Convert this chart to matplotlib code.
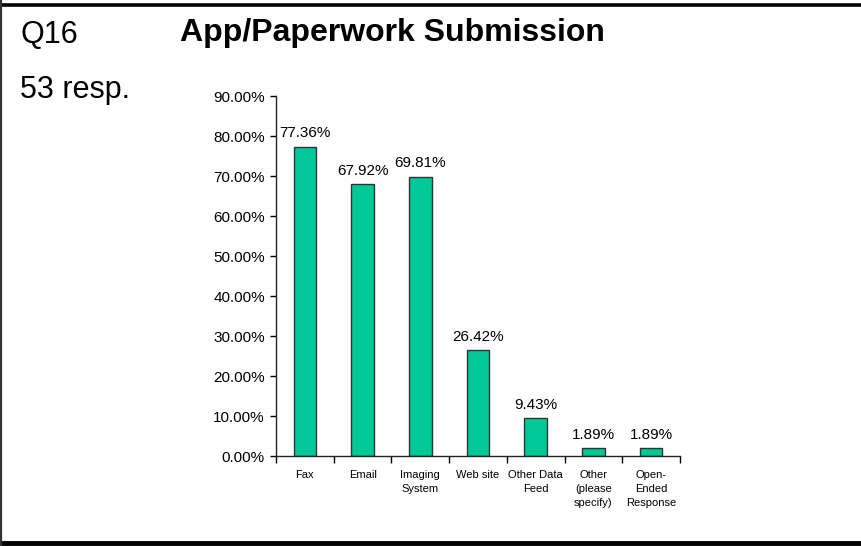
#!/usr/bin/env python3
"""Q16 survey results: how applications/paperwork are submitted."""

import matplotlib.pyplot as plt
from matplotlib.lines import Line2D
from matplotlib.ticker import FuncFormatter, MultipleLocator

question = "Q16"
title = "App/Paperwork Submission"
responses = "53 resp."

categories = [
    "Fax",
    "Email",
    "Imaging\nSystem",
    "Web site",
    "Other Data\nFeed",
    "Other\n(please\nspecify)",
    "Open-\nEnded\nResponse",
]
percent = [77.36, 67.92, 69.81, 26.42, 9.43, 1.89, 1.89]

bar_color = "#00C896"
font = ["Liberation Sans", "DejaVu Sans"]

W, H = 861, 546


def main():
    plt.rcParams["font.family"] = font

    fig = plt.figure(figsize=(W / 100, H / 100), dpi=100, facecolor="white")

    # Slide frame: heavy rules top and bottom, thin rule on the left
    fig.add_artist(Line2D([0, 1], [1 - 4.5 / H] * 2, transform=fig.transFigure,
                          color="black", linewidth=2.6))
    fig.add_artist(Line2D([0, 1], [3 / H] * 2, transform=fig.transFigure,
                          color="black", linewidth=3.5))
    fig.add_artist(Line2D([1 / W] * 2, [0, 1], transform=fig.transFigure,
                          color="#333333", linewidth=1.6))

    fig.text(20 / W, 1 - 43 / H, question, fontsize=22, va="baseline", ha="left")
    fig.text(180 / W, 1 - 41 / H, title, fontsize=23, fontweight="bold",
             va="baseline", ha="left")
    fig.text(20 / W, 1 - 98 / H, responses, fontsize=22, va="baseline", ha="left")

    ax = fig.add_axes([276 / W, 1 - 456 / H, 404 / W, 360 / H])
    x = range(len(categories))
    bars = ax.bar(x, percent, width=0.39, color=bar_color,
                  edgecolor="#333333", linewidth=1.0, zorder=2)

    for rect, val in zip(bars, percent):
        ax.annotate(f"{val:.2f}%",
                    xy=(rect.get_x() + rect.get_width() / 2, rect.get_height()),
                    xytext=(0, 7), textcoords="offset points",
                    ha="center", va="baseline", fontsize=11)

    ax.set_xlim(-0.5, len(categories) - 0.5)
    ax.set_ylim(0, 90)
    ax.yaxis.set_major_locator(MultipleLocator(10))
    ax.yaxis.set_major_formatter(FuncFormatter(lambda v, _: f"{v:.2f}%"))
    ax.tick_params(axis="y", labelsize=11, length=4, width=1, pad=4)

    # Category labels centred under bars, tick marks on the boundaries
    ax.set_xticks(list(x))
    ax.set_xticklabels(categories, fontsize=8, linespacing=1.5)
    ax.tick_params(axis="x", which="major", length=0, pad=10)
    ax.set_xticks([i - 0.5 for i in range(len(categories) + 1)], minor=True)
    ax.tick_params(axis="x", which="minor", length=5, width=1)

    ax.spines["top"].set_visible(False)
    ax.spines["right"].set_visible(False)
    for side in ("left", "bottom"):
        ax.spines[side].set_color("#222222")
        ax.spines[side].set_linewidth(1.0)

    fig.savefig("out.png", dpi=100, facecolor="white")
    plt.close(fig)


if __name__ == "__main__":
    main()
